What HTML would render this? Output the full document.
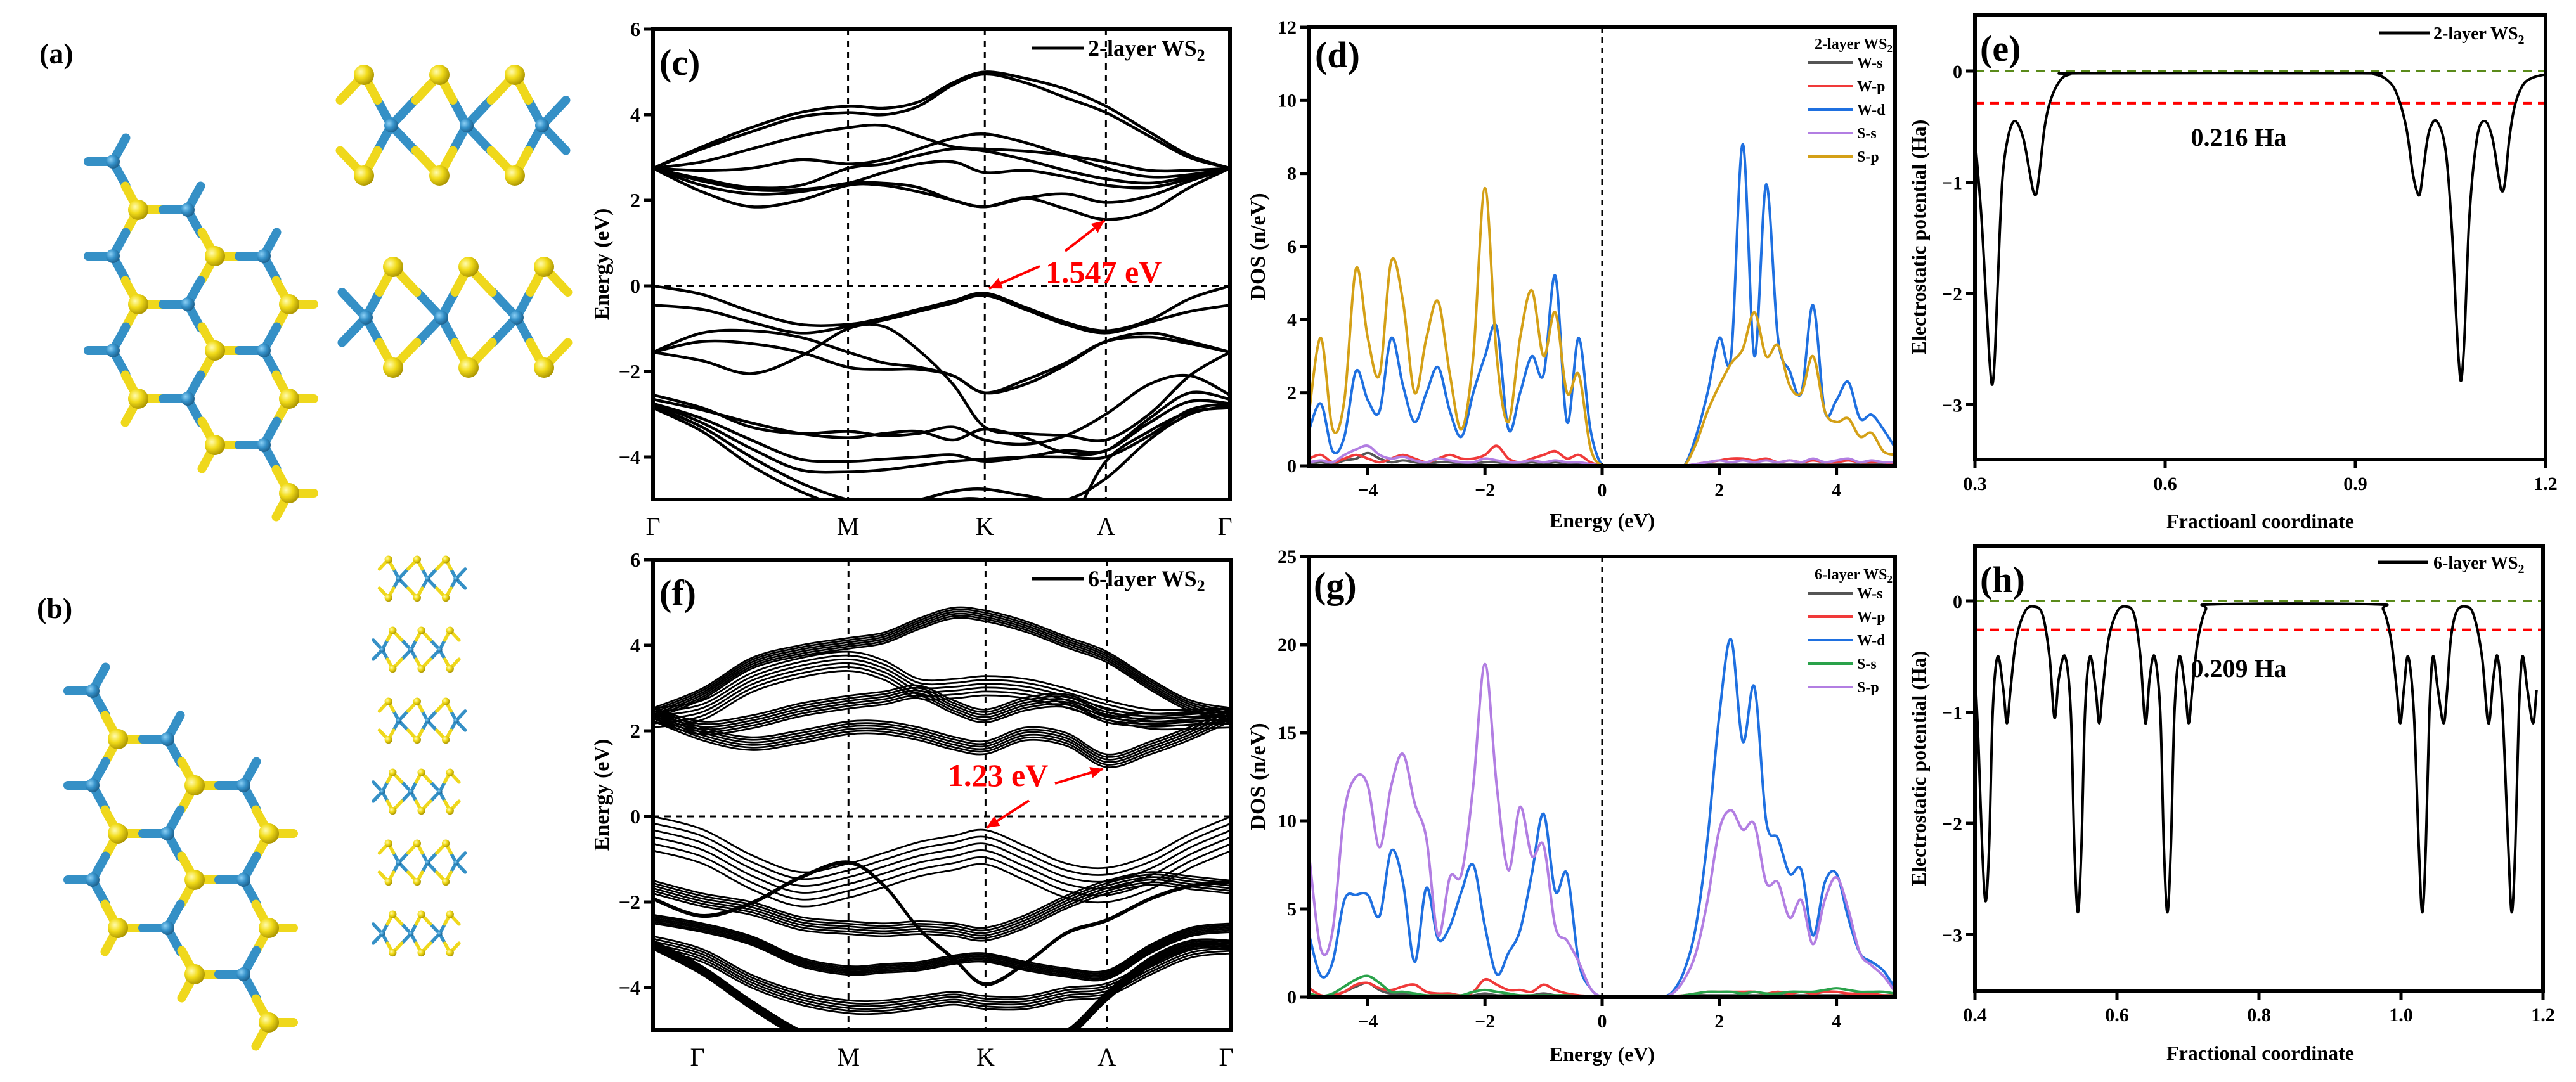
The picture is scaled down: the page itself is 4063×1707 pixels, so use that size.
<!DOCTYPE html>
<html><head><meta charset="utf-8"><title>WS2 band structure, DOS and electrostatic potential</title>
<style>
html,body{margin:0;padding:0;background:#fff;}
svg{display:block;font-family:"Liberation Serif",serif;}
.b{font-weight:bold;}
</style></head>
<body>
<svg id="fig" width="4063" height="1707" viewBox="0 0 4063 1707" xmlns="http://www.w3.org/2000/svg">
<defs>
<radialGradient id="gS" cx="0.35" cy="0.35" r="0.7"><stop offset="0" stop-color="#fffbb0"/><stop offset="0.45" stop-color="#f2dc1a"/><stop offset="1" stop-color="#a89200"/></radialGradient>
<radialGradient id="gW" cx="0.35" cy="0.35" r="0.7"><stop offset="0" stop-color="#8cd0f5"/><stop offset="0.5" stop-color="#3490c8"/><stop offset="1" stop-color="#1d5f8a"/></radialGradient>
<clipPath id="clipC"><rect x="1030" y="46" width="910" height="742"/></clipPath>
<clipPath id="clipF"><rect x="1030" y="883" width="912" height="742"/></clipPath>
<clipPath id="clipD"><rect x="2065" y="43" width="924" height="692"/></clipPath>
<clipPath id="clipG"><rect x="2065" y="878" width="924" height="695"/></clipPath>
<clipPath id="clipE"><rect x="3115" y="24" width="900" height="701"/></clipPath>
<clipPath id="clipH"><rect x="3115" y="862" width="896" height="701"/></clipPath>
</defs>

<g id="structures"></g>
<text class="b" x="62" y="100" font-size="46">(a)</text>
<text class="b" x="58" y="975" font-size="46">(b)</text>

<g>
<g id="bandsC" clip-path="url(#clipC)"></g>
<rect x="1030" y="46" width="910" height="742" fill="none" stroke="#000" stroke-width="6"/>
<g id="axC"></g>
<text class="b" x="1040" y="118" font-size="58">(c)</text>
<line x1="1627" y1="76" x2="1709" y2="76" stroke="#000" stroke-width="5"/>
<text class="b" x="1716" y="88" font-size="36">2-layer WS<tspan font-size="26" dy="8">2</tspan></text>
<text class="b" x="960" y="417" font-size="34" text-anchor="middle" transform="rotate(-90 960 417)">Energy (eV)</text>
<text x="1649" y="446" font-size="50" fill="#f00" class="b">1.547 eV</text>
</g>

<g>
<g id="bandsF" clip-path="url(#clipF)"></g>
<rect x="1030" y="883" width="912" height="742" fill="none" stroke="#000" stroke-width="6"/>
<g id="axF"></g>
<text class="b" x="1040" y="955" font-size="58">(f)</text>
<line x1="1627" y1="913" x2="1709" y2="913" stroke="#000" stroke-width="5"/>
<text class="b" x="1716" y="925" font-size="36">6-layer WS<tspan font-size="26" dy="8">2</tspan></text>
<text class="b" x="960" y="1254" font-size="34" text-anchor="middle" transform="rotate(-90 960 1254)">Energy (eV)</text>
<text x="1495" y="1240" font-size="50" fill="#f00" class="b">1.23 eV</text>
</g>

<g>
<g id="dosD" clip-path="url(#clipD)"></g>
<rect x="2065" y="43" width="924" height="692" fill="none" stroke="#000" stroke-width="6"/>
<g id="axD"></g>
<text class="b" x="2074" y="106" font-size="58">(d)</text>
<text class="b" x="2985" y="77" font-size="24" text-anchor="end">2-layer WS<tspan font-size="17" dy="5">2</tspan></text>
<g id="legD"></g>
<text class="b" x="1995" y="389" font-size="34" text-anchor="middle" transform="rotate(-90 1995 389)">DOS (n/eV)</text>
<text class="b" x="2527" y="832" font-size="32" text-anchor="middle">Energy (eV)</text>
</g>

<g>
<g id="dosG" clip-path="url(#clipG)"></g>
<rect x="2065" y="878" width="924" height="695" fill="none" stroke="#000" stroke-width="6"/>
<g id="axG"></g>
<text class="b" x="2072" y="943" font-size="58">(g)</text>
<text class="b" x="2985" y="914" font-size="24" text-anchor="end">6-layer WS<tspan font-size="17" dy="5">2</tspan></text>
<g id="legG"></g>
<text class="b" x="1995" y="1225" font-size="34" text-anchor="middle" transform="rotate(-90 1995 1225)">DOS (n/eV)</text>
<text class="b" x="2527" y="1674" font-size="32" text-anchor="middle">Energy (eV)</text>
</g>

<g>
<g id="potE" clip-path="url(#clipE)"></g>
<rect x="3115" y="24" width="900" height="701" fill="none" stroke="#000" stroke-width="6"/>
<g id="axE"></g>
<text class="b" x="3123" y="96" font-size="58">(e)</text>
<line x1="3752" y1="52" x2="3832" y2="52" stroke="#000" stroke-width="5"/>
<text class="b" x="3838" y="62" font-size="28">2-layer WS<tspan font-size="20" dy="7">2</tspan></text>
<text class="b" x="3531" y="230" font-size="40" text-anchor="middle">0.216 Ha</text>
<text class="b" x="3037" y="374" font-size="32" text-anchor="middle" transform="rotate(-90 3037 374)">Electrostatic potential (Ha)</text>
<text class="b" x="3565" y="833" font-size="32" text-anchor="middle">Fractioanl coordinate</text>
</g>

<g>
<g id="potH" clip-path="url(#clipH)"></g>
<rect x="3115" y="862" width="896" height="701" fill="none" stroke="#000" stroke-width="6"/>
<g id="axH"></g>
<text class="b" x="3123" y="934" font-size="58">(h)</text>
<line x1="3751" y1="887" x2="3830" y2="887" stroke="#000" stroke-width="5"/>
<text class="b" x="3838" y="897" font-size="28">6-layer WS<tspan font-size="20" dy="7">2</tspan></text>
<text class="b" x="3531" y="1068" font-size="40" text-anchor="middle">0.209 Ha</text>
<text class="b" x="3037" y="1212" font-size="32" text-anchor="middle" transform="rotate(-90 3037 1212)">Electrostatic potential (Ha)</text>
<text class="b" x="3565" y="1672" font-size="32" text-anchor="middle">Fractional coordinate</text>
</g>
</svg>

<script>
// ---------- band structure data ----------
const kFrac = [0,0.085,0.17,0.255,0.338,0.4,0.46,0.52,0.575,0.645,0.715,0.785,0.86,0.93,1];
const kPointLabels = ['Γ','M','K','Λ','Γ'];
const kPointFrac = [0,0.338,0.575,0.785,1];
const energyTicks = [6,4,2,0,-2,-4];
const bands2 = [
 [2.75,2.2,1.85,2.0,2.35,2.35,2.2,2.0,1.85,2.05,1.8,1.55,1.75,2.3,2.75],
 [2.75,2.35,2.15,2.2,2.4,2.4,2.3,2.0,1.85,2.05,2.15,1.95,2.1,2.45,2.75],
 [2.75,2.45,2.25,2.25,2.4,2.65,2.85,2.9,2.65,2.7,2.55,2.35,2.3,2.5,2.75],
 [2.75,2.5,2.3,2.35,2.75,2.85,3.05,3.2,3.15,2.95,2.7,2.5,2.4,2.55,2.75],
 [2.75,2.7,2.75,2.95,2.85,2.95,3.2,3.45,3.55,3.35,3.05,2.75,2.55,2.6,2.75],
 [2.75,2.9,3.2,3.5,3.7,3.75,3.5,3.25,3.2,3.15,3.05,2.9,2.7,2.7,2.75],
 [2.75,3.2,3.6,3.95,4.05,4.0,4.2,4.7,4.95,4.75,4.4,4.05,3.5,3.0,2.75],
 [2.75,3.25,3.7,4.05,4.2,4.15,4.3,4.75,5.0,4.85,4.6,4.2,3.6,3.05,2.75],
 [0,-0.2,-0.6,-0.9,-0.9,-0.75,-0.55,-0.35,-0.17,-0.5,-0.85,-1.05,-0.8,-0.3,0],
 [-0.45,-0.55,-0.85,-1.1,-0.95,-0.8,-0.6,-0.4,-0.22,-0.55,-0.9,-1.1,-0.85,-0.6,-0.45],
 [-1.55,-1.1,-1.05,-1.2,-1.55,-1.8,-1.9,-2.1,-2.5,-2.3,-1.85,-1.3,-1.1,-1.3,-1.55],
 [-1.55,-1.3,-1.35,-1.55,-1.9,-1.95,-1.95,-2.1,-2.5,-2.2,-1.8,-1.3,-1.2,-1.35,-1.55],
 [-1.55,-1.75,-2.05,-1.65,-1.0,-0.95,-1.5,-2.3,-3.3,-3.45,-3.5,-3.6,-3.0,-2.1,-1.55],
 [-2.55,-2.85,-3.3,-3.45,-3.4,-3.5,-3.45,-3.3,-3.6,-3.7,-3.5,-3.0,-2.3,-2.1,-2.55],
 [-2.65,-2.9,-3.2,-3.45,-3.55,-3.45,-3.4,-3.6,-3.35,-3.55,-3.9,-3.85,-3.1,-2.5,-2.65],
 [-2.75,-3.1,-3.6,-4.05,-4.1,-4.05,-4.0,-3.95,-4.1,-4.0,-3.85,-3.85,-3.2,-2.7,-2.75],
 [-2.75,-3.2,-3.8,-4.3,-4.35,-4.3,-4.2,-4.1,-4.05,-4.0,-4.0,-4.0,-3.5,-2.9,-2.75],
 [-2.8,-3.3,-4.0,-4.6,-5.0,-5.1,-5.0,-4.8,-4.75,-4.9,-5.0,-4.5,-3.6,-3.0,-2.8],
 [-2.85,-3.4,-4.2,-4.8,-5.2,-5.3,-5.2,-5.0,-5.0,-5.3,-5.6,-4.1,-3.4,-2.95,-2.85]
];
const bands6 = [
 [2.53,2.99,3.70,4.0,4.17,4.3,4.63,4.88,4.81,4.56,4.2,3.85,3.21,2.71,2.53],
 [2.53,2.71,3.35,3.70,3.85,3.64,3.21,3.21,3.28,3.21,2.99,2.71,2.5,2.5,2.53],
 [2.53,2.22,2.36,2.64,2.82,2.92,3.06,2.71,2.5,2.78,2.85,2.5,2.4,2.45,2.53],
 [2.53,2.08,1.85,2.01,2.22,2.22,2.08,1.86,1.76,2.08,1.95,1.45,1.75,2.1,2.53],
 [0,-0.3,-0.9,-1.3,-1.1,-0.85,-0.6,-0.45,-0.32,-0.7,-1.1,-1.2,-0.9,-0.4,0],
 [-1.5,-1.8,-2.0,-2.35,-2.45,-2.5,-2.45,-2.5,-2.6,-2.3,-1.85,-1.5,-1.3,-1.4,-1.5],
 [-1.9,-2.3,-2.0,-1.4,-1.05,-1.6,-2.6,-3.3,-3.9,-3.4,-2.7,-2.4,-1.9,-1.6,-1.5],
 [-2.3,-2.5,-2.8,-3.3,-3.5,-3.45,-3.4,-3.25,-3.2,-3.4,-3.55,-3.6,-3.0,-2.6,-2.5],
 [-2.8,-3.1,-3.7,-4.1,-4.3,-4.3,-4.2,-4.1,-4.2,-4.2,-4.0,-3.9,-3.4,-3.0,-2.9],
 [-2.9,-3.5,-4.3,-5.0,-5.5,-5.6,-5.5,-5.4,-5.3,-5.3,-5.0,-4.1,-3.3,-2.9,-2.9]
];
const bands6Spread = [0.25,0.45,0.3,0.3,0.8,0.3,0.05,0.2,0.3,0.2];

// ---------- DOS data ----------
const dosEnergy = [-5.0,-4.8,-4.6,-4.4,-4.2,-4.0,-3.8,-3.6,-3.4,-3.2,-3.0,-2.8,-2.6,-2.4,-2.2,-2.0,-1.8,-1.6,-1.4,-1.2,-1.0,-0.8,-0.6,-0.4,-0.2,0.0,0.2,0.4,0.6,0.8,1.0,1.2,1.4,1.6,1.8,2.0,2.2,2.4,2.6,2.8,3.0,3.2,3.4,3.6,3.8,4.0,4.2,4.4,4.6,4.8,5.0];
const dosTicksX = [-4,-2,0,2,4];
const dosTicksD = [0,2,4,6,8,10,12];
const dosTicksG = [0,5,10,15,20,25];
const dWs = [0.05,0.1,0.05,0.15,0.2,0.35,0.2,0.1,0.15,0.1,0.05,0.1,0.1,0.05,0.05,0.1,0.1,0.05,0.05,0.1,0.05,0.1,0.05,0.05,0.02,0,0,0,0,0,0,0,0,0.02,0.05,0.05,0.05,0.05,0.05,0.05,0.05,0.05,0.05,0.05,0.05,0.05,0.05,0.05,0.05,0.05,0.05];
const dWp = [0.2,0.3,0.1,0.2,0.3,0.2,0.1,0.2,0.3,0.2,0.1,0.2,0.3,0.2,0.2,0.3,0.55,0.2,0.1,0.2,0.3,0.4,0.2,0.3,0.1,0,0,0,0,0,0,0,0,0.05,0.1,0.15,0.2,0.2,0.15,0.2,0.1,0.15,0.1,0.15,0.1,0.1,0.15,0.1,0.1,0.1,0.05];
const dWd = [1.0,1.7,0.4,0.8,2.6,1.8,1.5,3.5,2.2,1.2,2.0,2.7,1.5,0.8,2.0,3.0,3.8,1.0,2.0,3.0,2.5,5.2,1.2,3.5,1.0,0,0,0,0,0,0,0,0,0.8,2.0,3.5,3.0,8.8,3.0,7.7,3.5,2.6,2.0,4.4,1.5,1.8,2.3,1.3,1.4,1.0,0.5];
const dSs = [0.1,0.15,0.1,0.3,0.45,0.55,0.3,0.2,0.25,0.15,0.1,0.2,0.15,0.1,0.1,0.2,0.15,0.1,0.1,0.15,0.1,0.15,0.1,0.1,0.05,0,0,0,0,0,0,0,0,0.05,0.1,0.15,0.1,0.15,0.1,0.15,0.1,0.15,0.1,0.2,0.1,0.15,0.2,0.1,0.15,0.1,0.1];
const dSp = [1.5,3.5,1.0,1.8,5.4,3.5,2.5,5.6,4.5,2.0,3.5,4.5,2.5,1.0,3.0,7.6,3.0,1.2,3.5,4.8,3.0,4.2,2.0,2.5,0.5,0,0,0,0,0,0,0,0,0.6,1.5,2.2,2.8,3.2,4.2,3.0,3.3,2.2,2.0,3.0,1.5,1.2,1.3,0.8,0.9,0.4,0.3];
const gWs = [0.05,0.05,0.1,0.3,0.6,0.8,0.4,0.2,0.2,0.1,0.05,0.05,0.05,0.05,0.1,0.2,0.1,0.1,0.05,0.1,0.2,0.1,0.05,0.02,0.01,0,0,0,0,0,0,0.01,0.05,0.1,0.1,0.1,0.1,0.1,0.1,0.1,0.1,0.1,0.1,0.1,0.1,0.1,0.1,0.1,0.1,0.1,0.1];
const gWp = [0.5,0.1,0.1,0.3,0.7,0.8,0.5,0.4,0.6,0.7,0.3,0.2,0.2,0.1,0.3,1.0,0.7,0.4,0.4,0.3,0.7,0.4,0.2,0.1,0.05,0,0,0,0,0,0,0.05,0.1,0.2,0.3,0.3,0.3,0.3,0.3,0.2,0.3,0.2,0.3,0.2,0.3,0.3,0.2,0.2,0.2,0.1,0.1];
const gWd = [3.5,1.2,2.0,5.5,5.8,5.8,4.6,8.3,6.5,2.0,6.2,3.3,4.0,6.0,7.5,4.0,1.3,2.5,3.8,7.0,10.4,6.0,7.0,2.0,0.5,0,0,0,0,0,0,0.3,1.5,4.0,9.0,16.0,20.3,14.5,17.6,10.0,9.0,7.0,7.2,3.5,6.5,7.0,4.5,2.5,2.0,1.5,0.5];
const gSs = [0.2,0.05,0.2,0.6,1.0,1.2,0.8,0.3,0.3,0.2,0.1,0.1,0.1,0.1,0.3,0.4,0.3,0.2,0.1,0.1,0.1,0.1,0.1,0.05,0.02,0,0,0,0,0,0,0.02,0.1,0.2,0.3,0.3,0.3,0.2,0.3,0.2,0.2,0.3,0.3,0.3,0.4,0.5,0.4,0.3,0.3,0.3,0.2];
const gSp = [8.0,2.7,3.8,10.5,12.5,12.0,8.5,12.0,13.8,11.0,9.0,3.5,6.8,7.0,12.0,18.9,12.0,7.2,10.8,8.0,8.6,4.0,3.2,2.0,0.5,0,0,0,0,0,0,0.2,1.0,2.5,5.5,9.5,10.6,9.5,9.8,6.5,6.5,4.5,5.5,3.0,5.5,6.8,5.0,2.5,1.8,1.2,0.3];

// ---------- electrostatic potential data ----------
const potTicksY = [0,-1,-2,-3];
const potTicksXE = [0.3,0.6,0.9,1.2];
const potTicksXH = [0.4,0.6,0.8,1.0,1.2];
const vacuumLevel = 0;
const fermiE = -0.29;
const fermiH = -0.26;
const potXE = [0.300,0.310,0.318,0.323,0.327,0.331,0.336,0.343,0.352,0.363,0.376,0.386,0.392,0.397,0.402,0.410,0.420,0.435,0.450,0.470,0.90,0.930,0.950,0.965,0.980,0.990,0.997,1.002,1.008,1.016,1.028,1.042,1.052,1.059,1.063,1.067,1.072,1.080,1.092,1.104,1.116,1.126,1.131,1.136,1.143,1.152,1.165,1.180,1.200];
const potYE = [-0.6,-1.3,-2.1,-2.6,-2.82,-2.6,-1.9,-1.0,-0.6,-0.45,-0.6,-0.9,-1.08,-1.1,-0.9,-0.5,-0.25,-0.08,-0.03,-0.02,-0.02,-0.03,-0.08,-0.2,-0.5,-0.9,-1.08,-1.1,-0.85,-0.55,-0.45,-0.7,-1.4,-2.2,-2.6,-2.78,-2.4,-1.3,-0.6,-0.45,-0.6,-0.95,-1.08,-1.0,-0.6,-0.3,-0.12,-0.06,-0.03];
const potXH = [0.400,0.405,0.410,0.415,0.420,0.425,0.432,0.440,0.445,0.450,0.458,0.470,0.482,0.495,0.505,0.512,0.518,0.527,0.535,0.540,0.545,0.550,0.555,0.562,0.570,0.575,0.580,0.588,0.600,0.612,0.624,0.633,0.640,0.646,0.653,0.661,0.666,0.671,0.676,0.681,0.688,0.696,0.701,0.706,0.714,0.725,0.740,0.960,0.975,0.986,0.994,0.999,1.004,1.010,1.018,1.025,1.030,1.035,1.040,1.045,1.052,1.060,1.065,1.070,1.078,1.090,1.102,1.114,1.123,1.130,1.136,1.143,1.151,1.156,1.161,1.166,1.171,1.178,1.186,1.191,1.196,1.200];
const potYH = [-0.6,-1.3,-2.2,-2.7,-2.2,-1.0,-0.5,-0.8,-1.1,-0.8,-0.35,-0.1,-0.05,-0.12,-0.5,-1.05,-0.7,-0.5,-1.0,-2.2,-2.8,-2.2,-1.0,-0.5,-0.8,-1.1,-0.8,-0.35,-0.1,-0.05,-0.12,-0.5,-1.1,-0.7,-0.5,-1.0,-2.2,-2.8,-2.2,-1.0,-0.5,-0.8,-1.1,-0.8,-0.35,-0.08,-0.03,-0.03,-0.08,-0.35,-0.8,-1.1,-0.8,-0.5,-1.0,-2.2,-2.8,-2.2,-1.0,-0.5,-0.8,-1.1,-0.8,-0.35,-0.1,-0.05,-0.12,-0.5,-1.1,-0.7,-0.5,-1.0,-2.2,-2.8,-2.2,-1.0,-0.5,-0.8,-1.1,-0.8,-0.6];

// ---------- helpers ----------
const NS = 'http://www.w3.org/2000/svg';
function mk(tag, attrs, parent, name) {
  const e = document.createElementNS(NS, tag);
  for (const k in attrs) e.setAttribute(k, attrs[k]);
  
  
  parent.appendChild(e);
  return e;
}
function smooth(pts) {
  if (pts.length < 2) return '';
  let d = 'M' + pts[0][0].toFixed(1) + ',' + pts[0][1].toFixed(1);
  for (let i = 0; i < pts.length - 1; i++) {
    const p0 = pts[i - 1] || pts[i], p1 = pts[i], p2 = pts[i + 1], p3 = pts[i + 2] || pts[i + 1];
    const c1x = p1[0] + (p2[0] - p0[0]) / 6, c1y = p1[1] + (p2[1] - p0[1]) / 6;
    const c2x = p2[0] - (p3[0] - p1[0]) / 6, c2y = p2[1] - (p3[1] - p1[1]) / 6;
    d += 'C' + c1x.toFixed(1) + ',' + c1y.toFixed(1) + ' ' + c2x.toFixed(1) + ',' + c2y.toFixed(1) + ' ' + p2[0].toFixed(1) + ',' + p2[1].toFixed(1);
  }
  return d;
}
function lin(d0, d1, r0, r1) { return v => r0 + (v - d0) * (r1 - r0) / (d1 - d0); }
const fmt = v => (v < 0 ? '−' + Math.abs(v) : String(v));

// ---------- band panels ----------
function bandPanel(gId, axId, x0, x1, top, bottom, yZero, bands, spread, labelShift) {
  const g = document.getElementById(gId), ax = document.getElementById(axId);
  const X = lin(0, 1, x0, x1), Y = v => yZero - 67.5 * v;
  kPointFrac.forEach((f, i) => {
    if (i > 0 && i < kPointFrac.length - 1) {
      mk('line', {x1: X(f), x2: X(f), y1: top, y2: bottom, stroke: '#000', 'stroke-width': 3, 'stroke-dasharray': '10 8'}, ax, 'k-point-line');
    }
    const lx = (i === 0) ? X(f) + labelShift : (i === kPointFrac.length - 1 ? X(f) - 8 : X(f));
    const t = mk('text', {x: lx, y: bottom + 56, 'font-size': 40, 'text-anchor': 'middle'}, ax, 'k-point-label');
    t.textContent = kPointLabels[i];
  });
  mk('line', {x1: x0, x2: x1, y1: Y(0), y2: Y(0), stroke: '#000', 'stroke-width': 3, 'stroke-dasharray': '10 8'}, ax, 'fermi-level-line');
  energyTicks.forEach(v => {
    mk('line', {x1: x0 - 14, x2: x0, y1: Y(v), y2: Y(v), stroke: '#000', 'stroke-width': 5}, ax, 'y-tick');
    const t = mk('text', {x: x0 - 20, y: Y(v) + 11, 'font-size': 32, 'text-anchor': 'end', 'font-weight': 'bold'}, ax, 'y-tick-label');
    t.textContent = fmt(v);
  });
  bands.forEach((b, bi) => {
    const n = spread ? 6 : 1;
    for (let j = 0; j < n; j++) {
      const off = spread ? -spread[bi] * j / (n - 1) : 0;
      const pts = kFrac.map((f, i) => [X(f), Y(b[i] + off)]);
      mk('path', {d: smooth(pts), fill: 'none', stroke: '#000', 'stroke-width': spread ? 2.8 : 4.5}, g, 'band-line');
    }
  });
}
bandPanel('bandsC', 'axC', 1030, 1940, 46, 788, 451, bands2, null, 0);
bandPanel('bandsF', 'axF', 1030, 1942, 883, 1625, 1288, bands6, bands6Spread, 70);

function arrow(parent, x1, y1, x2, y2, name) {
  mk('line', {x1: x1, y1: y1, x2: x2, y2: y2, stroke: '#f00', 'stroke-width': 4}, parent, name);
  const a = Math.atan2(y2 - y1, x2 - x1), L = 20, w = 9;
  const bx = x2 - L * Math.cos(a), by = y2 - L * Math.sin(a);
  const p = [[x2, y2], [bx + w * Math.sin(a), by - w * Math.cos(a)], [bx - w * Math.sin(a), by + w * Math.cos(a)]];
  mk('polygon', {points: p.map(q => q.join(',')).join(' '), fill: '#f00'}, parent, name + '-head');
}
const axC = document.getElementById('axC'), axF = document.getElementById('axF');
arrow(axC, 1640, 420, 1560, 455, 'gap-arrow-vbm-c');
arrow(axC, 1680, 396, 1742, 348, 'gap-arrow-cbm-c');
arrow(axF, 1623, 1263, 1556, 1306, 'gap-arrow-vbm-f');
arrow(axF, 1664, 1236, 1740, 1213, 'gap-arrow-cbm-f');

// ---------- DOS panels ----------
function dosPanel(gId, axId, top, bottom, yMax, ticks, series, colors) {
  const g = document.getElementById(gId), ax = document.getElementById(axId);
  const X = lin(-5, 5, 2065, 2989), Y = lin(0, yMax, bottom, top);
  mk('line', {x1: X(0), x2: X(0), y1: top, y2: bottom, stroke: '#000', 'stroke-width': 3, 'stroke-dasharray': '9 7'}, ax, 'zero-energy-line');
  ticks.forEach(v => {
    mk('line', {x1: 2051, x2: 2065, y1: Y(v), y2: Y(v), stroke: '#000', 'stroke-width': 5}, ax, 'y-tick');
    const t = mk('text', {x: 2045, y: Y(v) + 10, 'font-size': 30, 'text-anchor': 'end', 'font-weight': 'bold'}, ax, 'y-tick-label');
    t.textContent = fmt(v);
  });
  dosTicksX.forEach(v => {
    mk('line', {x1: X(v), x2: X(v), y1: bottom, y2: bottom + 14, stroke: '#000', 'stroke-width': 5}, ax, 'x-tick');
    const t = mk('text', {x: X(v), y: bottom + 48, 'font-size': 30, 'text-anchor': 'middle', 'font-weight': 'bold'}, ax, 'x-tick-label');
    t.textContent = fmt(v);
  });
  series.forEach((s, i) => {
    const pts = dosEnergy.map((e, k) => [X(e), Y(Math.max(0, s[k]))]);
    mk('path', {d: smooth(pts), fill: 'none', stroke: colors[i], 'stroke-width': 4}, g, 'dos-curve');
  });
}
dosPanel('dosD', 'axD', 43, 735, 12, dosTicksD, [dWs, dWp, dWd, dSs, dSp], ['#555555', '#f03a3a', '#1f70e0', '#b27ee2', '#d4a017']);
dosPanel('dosG', 'axG', 878, 1573, 25, dosTicksG, [gWs, gWp, gWd, gSs, gSp], ['#555555', '#f03a3a', '#1f70e0', '#2aa24a', '#b27ee2']);

const legendNames = ['W-s', 'W-p', 'W-d', 'S-s', 'S-p'];
function legend(id, y0, colors) {
  const g = document.getElementById(id);
  legendNames.forEach((n, i) => {
    const y = y0 + i * 37;
    mk('line', {x1: 2852, x2: 2923, y1: y, y2: y, stroke: colors[i], 'stroke-width': 4}, g, 'legend-line');
    const t = mk('text', {x: 2929, y: y + 8, 'font-size': 24, 'font-weight': 'bold'}, g, 'legend-label');
    t.textContent = n;
  });
}
legend('legD', 99, ['#555555', '#f03a3a', '#1f70e0', '#b27ee2', '#d4a017']);
legend('legG', 936, ['#555555', '#f03a3a', '#1f70e0', '#2aa24a', '#b27ee2']);

// ---------- potential panels ----------
function potPanel(gId, axId, xMin, xMax, x0, x1, top, bottom, yZero, xs, ys, xTicks, fermi) {
  const g = document.getElementById(gId), ax = document.getElementById(axId);
  const X = lin(xMin, xMax, x0, x1), Y = v => yZero - 175.5 * v;
  potTicksY.forEach(v => {
    mk('line', {x1: x0 - 14, x2: x0, y1: Y(v), y2: Y(v), stroke: '#000', 'stroke-width': 5}, ax, 'y-tick');
    const t = mk('text', {x: x0 - 20, y: Y(v) + 11, 'font-size': 30, 'text-anchor': 'end', 'font-weight': 'bold'}, ax, 'y-tick-label');
    t.textContent = fmt(v);
  });
  xTicks.forEach(v => {
    mk('line', {x1: X(v), x2: X(v), y1: bottom, y2: bottom + 14, stroke: '#000', 'stroke-width': 5}, ax, 'x-tick');
    const t = mk('text', {x: X(v), y: bottom + 48, 'font-size': 30, 'text-anchor': 'middle', 'font-weight': 'bold'}, ax, 'x-tick-label');
    t.textContent = v.toFixed(1);
  });
  mk('line', {x1: x0, x2: x1, y1: Y(vacuumLevel), y2: Y(vacuumLevel), stroke: '#5a8a1a', 'stroke-width': 4, 'stroke-dasharray': '14 10'}, g, 'vacuum-level-line');
  mk('line', {x1: x0, x2: x1, y1: Y(fermi), y2: Y(fermi), stroke: '#f00', 'stroke-width': 4, 'stroke-dasharray': '14 10'}, g, 'fermi-level-line');
  const pts = xs.map((x, i) => [X(x), Y(ys[i])]);
  mk('path', {d: smooth(pts), fill: 'none', stroke: '#000', 'stroke-width': 4}, g, 'potential-curve');
}
potPanel('potE', 'axE', 0.3, 1.2, 3115, 4015, 24, 725, 112, potXE, potYE, potTicksXE, fermiE);
potPanel('potH', 'axH', 0.4, 1.2, 3115, 4011, 862, 1563, 948, potXH, potYH, potTicksXH, fermiH);

// ---------- atomic structures ----------
const S_COL = '#efd81c', W_COL = '#3590c6';
const st = document.getElementById('structures');
function halfBond(x1, y1, x2, y2, col, w) {
  mk('line', {x1: x1, y1: y1, x2: (x1 + x2) / 2, y2: (y1 + y2) / 2, stroke: col, 'stroke-width': w, 'stroke-linecap': 'round'}, st, 'bond');
}
function atom(x, y, type, s) {
  mk('circle', {cx: x, cy: y, r: (type === 'S' ? 16 : 11) * s, fill: type === 'S' ? 'url(#gS)' : 'url(#gW)'}, st, type === 'S' ? 'sulfur-atom' : 'tungsten-atom');
}
const hexAtoms = [['W',178,255],['S',218,331],['W',296,331],['W',178,404],['S',339,404],['W',416,404],['S',218,480],['W',296,480],['S',456,480],['W',178,553],['S',339,553],['W',416,553],['S',218,629],['W',296,629],['S',456,629],['S',339,702],['W',416,702],['S',456,778]];
function hexView(dx, dy) {
  const nb = {W: [[-78,0],[41,-75],[41,75]], S: [[78,0],[-41,-75],[-41,75]]};
  hexAtoms.forEach(a => {
    nb[a[0]].forEach(v => halfBond(a[1] + dx, a[2] + dy, a[1] + v[0] + dx, a[2] + v[1] + dy, a[0] === 'S' ? S_COL : W_COL, 14));
  });
  hexAtoms.forEach(a => atom(a[1] + dx, a[2] + dy, a[0], 1));
}
hexView(0, 0);
hexView(-32, 835);
function layer(cx, cy, s, m) {
  const ws = [0, 119, 238].map(o => cx + o * s);
  const ss = ws.map(x => x - 43 * m * s);
  const bw = 14 * s;
  [-80, 79].forEach(dyv => {
    ws.forEach(x => { [-43, 75].forEach(o => halfBond(x, cy, x + o * m * s, cy + dyv * s, W_COL, bw)); });
    ss.forEach(x => { [43, -75].forEach(o => halfBond(x, cy + dyv * s, x + o * m * s, cy, S_COL, bw)); });
  });
  ws.forEach(x => atom(x, cy, 'W', s));
  ss.forEach(x => { atom(x, cy - 80 * s, 'S', s); atom(x, cy + 79 * s, 'S', s); });
}
layer(617, 198, 1, 1);
layer(577, 501, 1, -1);
const stackY = [913, 1025, 1137, 1249, 1361, 1473];
stackY.forEach((y, i) => layer(i % 2 === 0 ? 629 : 603, y, 0.38, i % 2 === 0 ? 1 : -1));
</script>
</body></html>
